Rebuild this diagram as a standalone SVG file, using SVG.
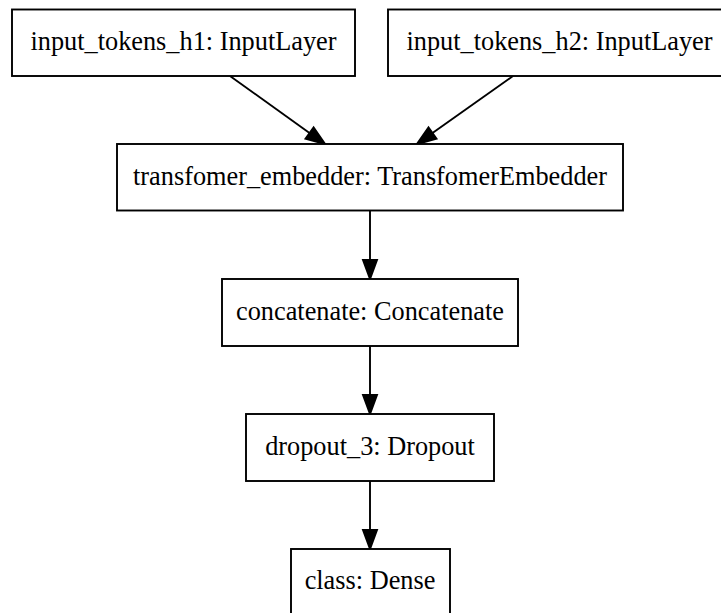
<svg xmlns="http://www.w3.org/2000/svg" width="721" height="613" viewBox="0 0 721 613">
  <style>
    .box { fill: #ffffff; stroke: #000000; stroke-width: 1.9; }
    .lbl { font-family: "Liberation Serif", "Times New Roman", serif; font-size: 26.3px; fill: #000000; text-anchor: middle; }
    .edge { fill: none; stroke: #000000; stroke-width: 1.9; }
    .head { fill: #000000; stroke: #000000; stroke-width: 1.9; stroke-linejoin: miter; }
  </style>
  <rect width="721" height="613" fill="#ffffff"/>

  <g id="edges">
    <path class="edge" d="M230,76 L309.5,132.9"/>
    <polygon class="head" points="325,144 305.5,138.6 313.6,127.3"/>
    <path class="edge" d="M513,76 L432.5,133"/>
    <polygon class="head" points="417,144 436.5,138.7 428.5,127.3"/>
    <path class="edge" d="M370,210.5 L370,260"/>
    <polygon class="head" points="370,279 363,260 377,260"/>
    <path class="edge" d="M370,346 L370,395"/>
    <polygon class="head" points="370,414 363,395 377,395"/>
    <path class="edge" d="M370,481 L370,530"/>
    <polygon class="head" points="370,549 363,530 377,530"/>
  </g>

  <g id="input_tokens_h1">
    <rect class="box" x="12" y="9.5" width="343" height="66.5"/>
    <text class="lbl" x="183.5" y="50">input_tokens_h1: InputLayer</text>
  </g>
  <g id="input_tokens_h2">
    <rect class="box" x="388" y="9.5" width="343" height="66.5"/>
    <text class="lbl" x="559.5" y="50">input_tokens_h2: InputLayer</text>
  </g>
  <g id="transfomer_embedder">
    <rect class="box" x="117" y="144" width="506" height="66.5"/>
    <text class="lbl" x="370" y="184.5">transfomer_embedder: TransfomerEmbedder</text>
  </g>
  <g id="concatenate">
    <rect class="box" x="222" y="279" width="296" height="67"/>
    <text class="lbl" x="370" y="319.5">concatenate: Concatenate</text>
  </g>
  <g id="dropout_3">
    <rect class="box" x="246" y="414" width="248" height="67"/>
    <text class="lbl" x="370" y="454.5">dropout_3: Dropout</text>
  </g>
  <g id="class">
    <rect class="box" x="291" y="549" width="159" height="67"/>
    <text class="lbl" x="370" y="589">class: Dense</text>
  </g>
</svg>
